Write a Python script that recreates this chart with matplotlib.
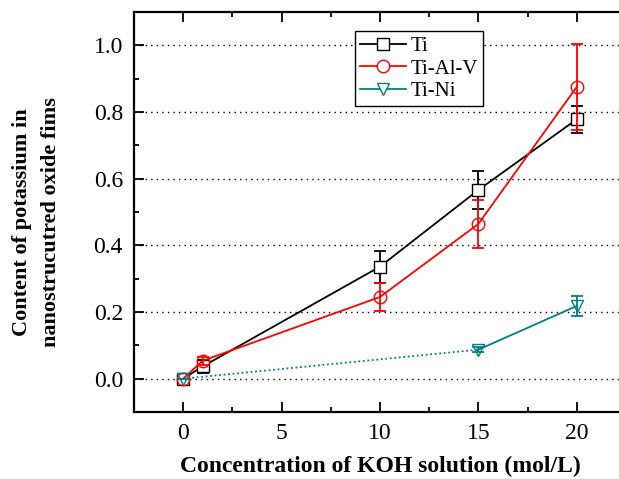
import matplotlib.pyplot as plt
from matplotlib.lines import Line2D
from matplotlib.ticker import MultipleLocator

plt.rcParams['font.family'] = ['Liberation Serif', 'DejaVu Serif']

# KOH concentration (mol/L) and potassium content for each alloy
conc_ti = [0, 1, 10, 15, 20]
ti = [0.0, 0.037, 0.336, 0.566, 0.778]
ti_err = [0.0, 0.02, 0.048, 0.058, 0.04]

conc_tialv = [0, 1, 10, 15, 20]
tialv = [0.0, 0.054, 0.245, 0.464, 0.875]
tialv_err = [0.0, 0.012, 0.042, 0.073, 0.128]

conc_tini = [0, 15, 20]
tini = [0.0, 0.087, 0.218]
tini_err = [0.0, 0.008, 0.03]

teal = '#008080'

fig = plt.figure(figsize=(6.19, 4.79), dpi=100)
ax = fig.add_axes([134 / 619, 1 - 412 / 479, (619 - 134) / 619, 400 / 479])

ax.set_xlim(-2.5, 22.15)
ax.set_ylim(-0.1, 1.1)

for y in [0.0, 0.2, 0.4, 0.6, 0.8, 1.0]:
    ax.axhline(y, color='black', linestyle=(0, (1, 3)), linewidth=1.0, zorder=0)

ax.errorbar(conc_ti, ti, yerr=ti_err, color='black', marker='s', markersize=8,
            markerfacecolor='white', markeredgecolor='black', linewidth=1.3,
            capsize=4, elinewidth=1.3, capthick=1.3, zorder=3)
ax.errorbar(conc_tialv, tialv, yerr=tialv_err, color='red', marker='o', markersize=9,
            markerfacecolor='none', markeredgecolor='red', linewidth=1.3,
            capsize=4, elinewidth=1.3, capthick=1.3, zorder=4)

# Ti-Ni: dotted up to 15 mol/L, solid afterwards
ax.plot(conc_tini[:2], tini[:2], color=teal, linestyle=(0, (1, 1.5)), linewidth=1.3, zorder=2)
ax.plot(conc_tini[1:], tini[1:], color=teal, linewidth=1.3, zorder=2)
ax.errorbar(conc_tini, tini, yerr=tini_err, color=teal, marker='v', markersize=9,
            markerfacecolor='none', markeredgecolor=teal, linestyle='none',
            capsize=4, elinewidth=1.3, capthick=1.3, zorder=5)

ax.xaxis.set_major_locator(MultipleLocator(5))
ax.xaxis.set_minor_locator(MultipleLocator(2.5))
ax.yaxis.set_major_locator(MultipleLocator(0.2))
ax.yaxis.set_minor_locator(MultipleLocator(0.1))
ax.tick_params(which='both', direction='in', top=True, right=False, width=1.3)
ax.tick_params(which='major', length=7, labelsize=17, pad=8)
ax.tick_params(which='minor', length=3.5)
ax.set_yticks([0.0, 0.2, 0.4, 0.6, 0.8, 1.0])
ax.set_yticklabels(['0.0', '0.2', '0.4', '0.6', '0.8', '1.0'])

for side in ['left', 'top', 'bottom']:
    ax.spines[side].set_linewidth(1.6)
ax.spines['right'].set_visible(False)

ax.set_xlabel('Concentration of KOH solution (mol/L)', fontsize=17, fontweight='bold', va='center')
ax.xaxis.set_label_coords(0.509, -0.137)
ax.set_ylabel('Content of potassium in\nnanostrucutred oxide fims', fontsize=16,
              fontweight='bold', linespacing=1.6, va='center')
ax.yaxis.set_label_coords(-0.2, 0.475)

handles = [
    Line2D([], [], color='black', marker='s', markersize=8, markerfacecolor='white',
           markeredgecolor='black', linewidth=1.3),
    Line2D([], [], color='red', marker='o', markersize=9, markerfacecolor='white',
           markeredgecolor='red', linewidth=1.3),
    Line2D([], [], color=teal, marker='v', markersize=9, markerfacecolor='white',
           markeredgecolor=teal, linewidth=1.3),
]
leg = ax.legend(handles, ['Ti', 'Ti-Al-V', 'Ti-Ni'], loc='upper left',
                bbox_to_anchor=(221 / 485, 1 - 19 / 400), fontsize=15,
                frameon=True, fancybox=False, edgecolor='black', framealpha=1,
                handlelength=2.2, handletextpad=0.2, borderpad=0.25, labelspacing=0.15,
                borderaxespad=0)
leg.get_frame().set_linewidth(1.0)

fig.savefig('out.png', dpi=100)
